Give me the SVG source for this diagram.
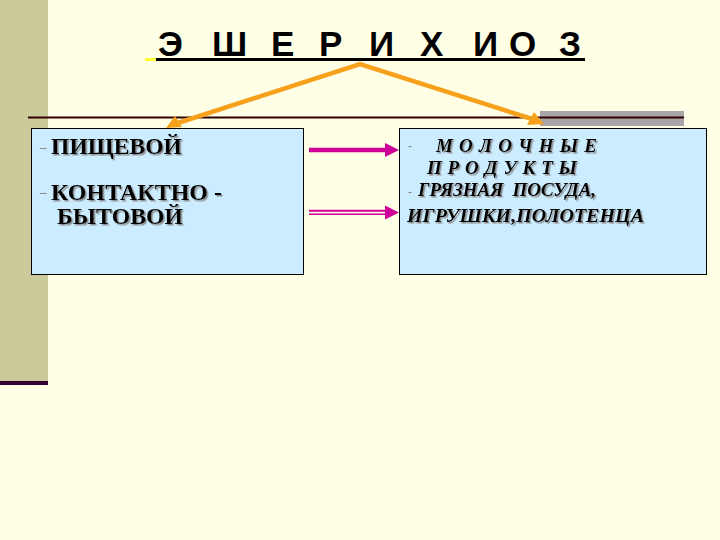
<svg xmlns="http://www.w3.org/2000/svg" width="720" height="540" viewBox="0 0 720 540">
<style>
.title{font-family:"Liberation Sans",Arial,sans-serif;font-weight:bold;font-size:35px;fill:#000}
.lt{font-family:"Liberation Serif","Times New Roman",serif;font-weight:bold;font-size:23px;fill:#000;filter:url(#sh)}
.rt{font-family:"Liberation Serif","Times New Roman",serif;font-weight:bold;font-style:italic;font-size:19px;fill:#000;filter:url(#sh)}
.dash{font-family:"Liberation Sans",Arial,sans-serif;font-size:12px;fill:#888}
.box{fill:#CCECFF;stroke:#000;stroke-width:1}
.orange{stroke:#F7A01C;stroke-width:4.5;fill:none}
.mag{stroke:#CC0099;fill:none}
</style>
<defs>
<filter id="sh" x="-5%" y="-20%" width="110%" height="140%">
<feDropShadow dx="1.5" dy="1.5" stdDeviation="0.4" flood-color="#808080" flood-opacity="0.9"/>
</filter>
</defs>
<rect x="0" y="0" width="720" height="540" fill="#FFFFE5"/>
<rect x="0" y="0" width="48" height="381" fill="#CCC99A"/>
<rect x="0" y="381" width="48" height="4" fill="#330033"/>
<g id="title">
<rect x="145" y="58" width="11" height="3" fill="#FFFF33"/>
<line x1="156" y1="59.5" x2="585" y2="59.5" stroke="#000" stroke-width="3"/>
<text class="title" y="56" x="158 182 212 244 271 296 319 345 369 396 420 448 473 499 509 537 559">Э Ш Е Р И Х И О З</text>
</g>
<rect x="540" y="111" width="144" height="15" fill="#A9A6A9"/>
<line x1="28" y1="117.5" x2="684" y2="117.5" stroke="#330000" stroke-width="2"/>
<g id="node-left">
<rect class="box" x="31.5" y="128.5" width="272" height="146"/>
<text class="dash" x="40" y="152">–</text>
<text class="lt" x="51" y="154" textLength="131" lengthAdjust="spacingAndGlyphs">ПИЩЕВОЙ</text>
<text class="dash" x="40" y="197">–</text>
<text class="lt" x="51" y="200" textLength="171" lengthAdjust="spacingAndGlyphs">КОНТАКТНО -</text>
<text class="lt" x="57" y="224" textLength="126" lengthAdjust="spacingAndGlyphs">БЫТОВОЙ</text>
</g>
<g id="node-right">
<rect class="box" x="399.5" y="128.5" width="307" height="146"/>
<text class="dash" x="408" y="150" font-size="9">-</text>
<text class="rt" x="436" y="152" textLength="161" lengthAdjust="spacing">М О Л О Ч Н Ы Е</text>
<text class="rt" x="427" y="174" textLength="150" lengthAdjust="spacing">П Р О Д У К Т Ы</text>
<text class="dash" x="408" y="196" font-size="9">-</text>
<text class="rt" x="418" y="196" textLength="178" lengthAdjust="spacing" xml:space="preserve" style="white-space:pre">ГРЯЗНАЯ  ПОСУДА,</text>
<text class="rt" x="407" y="222" textLength="237" lengthAdjust="spacingAndGlyphs">ИГРУШКИ,ПОЛОТЕНЦА</text>
</g>
<g id="connectors">
<polyline class="orange" points="178,123 360,64 532,119"/>
<polygon points="166,128 175,116 182,127" fill="#F7A01C"/>
<polygon points="544,124 527,125 534,112" fill="#F7A01C"/>
<line class="mag" x1="309" y1="150" x2="387" y2="150" stroke-width="4.5"/>
<polygon points="385,143 399,150 385,157" fill="#CC0099"/>
<line class="mag" x1="309" y1="210.8" x2="387" y2="210.8" stroke-width="2"/>
<line class="mag" x1="309" y1="214.2" x2="387" y2="214.2" stroke-width="1.6"/>
<polygon points="385,205.5 399,212.5 385,219.5" fill="#CC0099"/>
</g>
</svg>
